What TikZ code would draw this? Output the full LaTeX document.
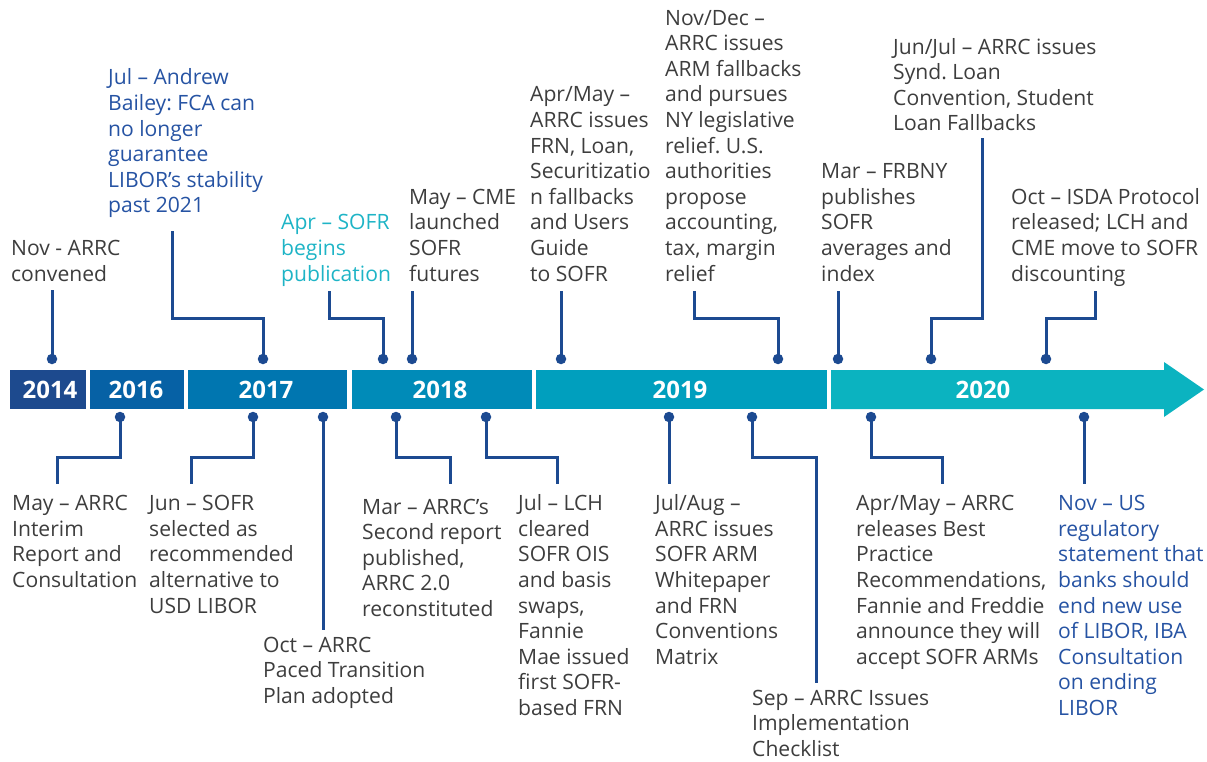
\documentclass[tikz,border=0pt]{standalone}
\usepackage{fontspec}
\setmainfont{Open Sans}
\frenchspacing
\definecolor{conn}{HTML}{1C4A91}
\definecolor{txtgray}{HTML}{3D3D3D}
\definecolor{txtblue}{HTML}{2653A3}
\definecolor{txtcyan}{HTML}{1EB4C6}
\definecolor{y2014}{HTML}{1D4A8E}
\definecolor{y2016}{HTML}{0661A5}
\definecolor{y2017}{HTML}{0076B0}
\definecolor{y2018}{HTML}{008BB8}
\definecolor{y2019}{HTML}{009FBE}
\definecolor{y2020}{HTML}{0BB3C0}
\begin{document}
\begin{tikzpicture}[x=1pt,y=-1pt,
  evt/.style={anchor=base west, inner sep=0pt, align=left,
    font=\fontsize{21.1}{25.6}\selectfont, text=txtgray},
  yr/.style={text=white, font=\fontsize{24}{24}\selectfont\bfseries, inner sep=0pt},
  pin/.style={circle, fill=conn, inner sep=0pt, minimum size=10.5pt},
  link/.style={draw=conn, line width=3pt},
]
\useasboundingbox (0,0) rectangle (1207,762);

% timeline bar
\fill[y2014] (10,370) rectangle (86,409);
\fill[y2016] (90,370) rectangle (184,409);
\fill[y2017] (188,370) rectangle (347,409);
\fill[y2018] (352,370) rectangle (532,409);
\fill[y2019] (536,370) rectangle (827,409);
\fill[y2020] (831,370) -- (1164,370) -- (1164,362) -- (1204,389.5) -- (1164,417) -- (1164,409) -- (831,409) -- cycle;
\node[yr] (y14) at (50,389.5) {2014};
\node[yr] (y16) at (136,389.5) {2016};
\node[yr] (y17) at (266,389.5) {2017};
\node[yr] (y18) at (440,389.5) {2018};
\node[yr] (y19) at (680,389.5) {2019};
\node[yr] (y20) at (983,389.5) {2020};

% top events (anchor = baseline of last line)
\node[evt] (t1) at (11,281) {Nov - ARRC\\convened};
\node[evt, text=txtblue] (t2) at (108,213) {Jul – Andrew\\Bailey: FCA can\\no longer\\guarantee\\LIBOR’s stability\\past 2021};
\node[evt, text=txtcyan] (t3) at (281,281) {Apr – SOFR\\begins\\publication};
\node[evt] (t4) at (409,281) {May – CME\\launched\\SOFR\\futures};
\node[evt] (t5) at (530,281) {Apr/May –\\ARRC issues\\FRN, Loan,\\Securitizatio\\n fallbacks\\and Users\\Guide\\to SOFR};
\node[evt] (t6) at (665,281) {Nov/Dec –\\ARRC issues\\ARM fallbacks\\and pursues\\NY legislative\\relief. U.S.\\authorities\\propose\\accounting,\\tax, margin\\relief};
\node[evt] (t7) at (821,281) {Mar – FRBNY\\publishes\\SOFR\\averages and\\index};
\node[evt] (t8) at (893,131) {Jun/Jul – ARRC issues\\Synd. Loan\\Convention, Student\\Loan Fallbacks};
\node[evt] (t9) at (1011,281) {Oct – ISDA Protocol\\released; LCH and\\CME move to SOFR\\discounting};

% bottom events
\node[evt] (b1) at (12,587.5) {May – ARRC\\Interim\\Report and\\Consultation};
\node[evt] (b2) at (149,613.1) {Jun – SOFR\\selected as\\recommended\\alternative to\\USD LIBOR};
\node[evt] (b3) at (263,703.2) {Oct – ARRC\\Paced Transition\\Plan adopted};
\node[evt] (b4) at (362,616.4) {Mar – ARRC’s\\Second report\\published,\\ARRC 2.0\\reconstituted};
\node[evt] (b5) at (518,715.5) {Jul – LCH\\cleared\\SOFR OIS\\and basis\\swaps,\\Fannie\\Mae issued\\first SOFR-\\based FRN};
\node[evt] (b6) at (655,664.3) {Jul/Aug –\\ARRC issues\\SOFR ARM\\Whitepaper\\and FRN\\Conventions\\Matrix};
\node[evt] (b7) at (752,756.2) {Sep – ARRC Issues\\Implementation\\Checklist};
\node[evt] (b8) at (856,664.3) {Apr/May – ARRC\\releases Best\\Practice\\Recommendations,\\Fannie and Freddie\\announce they will\\accept SOFR ARMs};
\node[evt, text=txtblue] (b9) at (1058,715.5) {Nov – US\\regulatory\\statement that\\banks should\\end new use\\of LIBOR, IBA\\Consultation\\on ending\\LIBOR};

% pins
\node[pin] (pt1) at (52,359) {};
\node[pin] (pt2) at (263,359) {};
\node[pin] (pt3) at (383,359) {};
\node[pin] (pt4) at (412,359) {};
\node[pin] (pt5) at (561,359) {};
\node[pin] (pt6) at (778,359) {};
\node[pin] (pt7) at (838,359) {};
\node[pin] (pt8) at (931,359) {};
\node[pin] (pt9) at (1046,359) {};
\node[pin] (pb1) at (120,417) {};
\node[pin] (pb2) at (253,417) {};
\node[pin] (pb3) at (323,417) {};
\node[pin] (pb4) at (396,417) {};
\node[pin] (pb5) at (486,417) {};
\node[pin] (pb6) at (669,417) {};
\node[pin] (pb7) at (752,417) {};
\node[pin] (pb8) at (871,417) {};
\node[pin] (pb9) at (1084,417) {};

% connector ends and elbows
\coordinate (et1) at (52,290);
\coordinate (kt2) at (172,318); \coordinate (et2) at (172,231);
\coordinate (kt3) at (329,318); \coordinate (et3) at (329,291);
\coordinate (et4) at (412,291);
\coordinate (et5) at (561,291);
\coordinate (kt6) at (694,318); \coordinate (et6) at (694,291);
\coordinate (et7) at (838,291);
\coordinate (kt8) at (982,318); \coordinate (et8) at (982,138);
\coordinate (kt9) at (1095,318); \coordinate (et9) at (1095,291);
\coordinate (kb1) at (57,457); \coordinate (eb1) at (57,484);
\coordinate (kb2) at (191,457); \coordinate (eb2) at (191,484);
\coordinate (eb3) at (323,630);
\coordinate (kb4) at (450,457); \coordinate (eb4) at (450,484);
\coordinate (kb5) at (557,457); \coordinate (eb5) at (557,484);
\coordinate (eb6) at (669,484);
\coordinate (kb7) at (816,457); \coordinate (eb7) at (816,683);
\coordinate (kb8) at (942,457); \coordinate (eb8) at (942,484);
\coordinate (eb9) at (1084,484);

\draw[link] (pt1.center) -- (et1);
\draw[link] (pt2.center) |- (kt2) -- (et2);
\draw[link] (pt3.center) |- (kt3) -- (et3);
\draw[link] (pt4.center) -- (et4);
\draw[link] (pt5.center) -- (et5);
\draw[link] (pt6.center) |- (kt6) -- (et6);
\draw[link] (pt7.center) -- (et7);
\draw[link] (pt8.center) |- (kt8) -- (et8);
\draw[link] (pt9.center) |- (kt9) -- (et9);
\draw[link] (pb1.center) |- (kb1) -- (eb1);
\draw[link] (pb2.center) |- (kb2) -- (eb2);
\draw[link] (pb3.center) -- (eb3);
\draw[link] (pb4.center) |- (kb4) -- (eb4);
\draw[link] (pb5.center) |- (kb5) -- (eb5);
\draw[link] (pb6.center) -- (eb6);
\draw[link] (pb7.center) |- (kb7) -- (eb7);
\draw[link] (pb8.center) |- (kb8) -- (eb8);
\draw[link] (pb9.center) -- (eb9);
\end{tikzpicture}
\end{document}
